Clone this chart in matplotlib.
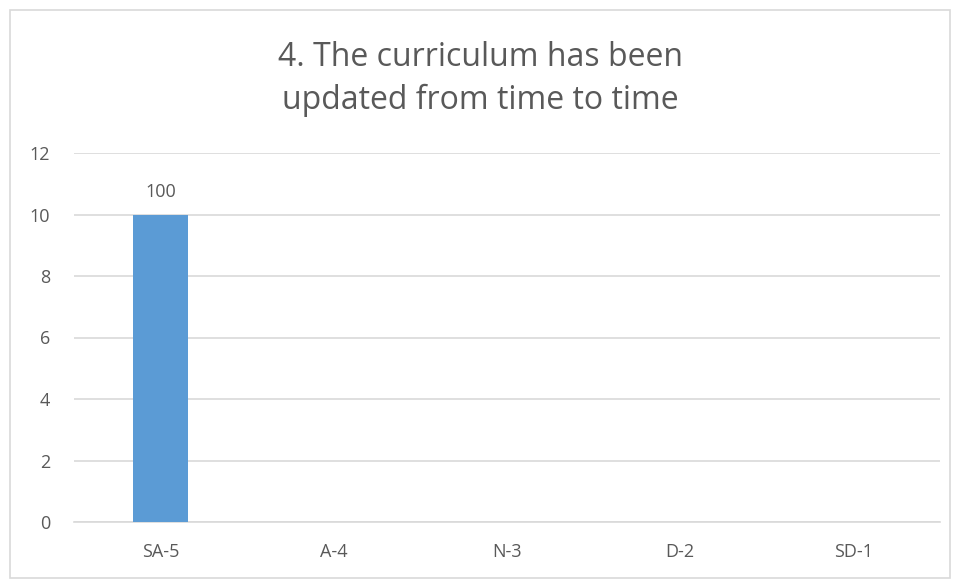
import matplotlib.pyplot as plt
from matplotlib.patches import Rectangle

categories = ['SA-5', 'A-4', 'N-3', 'D-2', 'SD-1']
counts = [10, 0, 0, 0, 0]
percent_labels = ['100', '', '', '', '']
y_ticks = [0, 2, 4, 6, 8, 10, 12]

plt.rcParams['font.family'] = ['Open Sans', 'DejaVu Sans']
text_color = '#595959'

fig = plt.figure(figsize=(9.6, 5.8), dpi=100)
ax = fig.add_axes([74 / 960, 58 / 580, 866 / 960, 369 / 580])

x = range(len(categories))
bars = ax.bar(x, counts, width=0.32, color='#5b9bd5', zorder=3)

for bar, lab in zip(bars, percent_labels):
    if lab:
        ax.text(bar.get_x() + bar.get_width() / 2, bar.get_height() + 0.45, lab,
                ha='center', va='bottom', fontsize=13, color=text_color)

ax.set_xlim(-0.5, len(categories) - 0.5)
ax.set_ylim(0, 12)
ax.set_yticks(y_ticks)
ax.set_xticks(list(x))
ax.set_xticklabels(categories)
ax.tick_params(axis='both', length=0, labelcolor=text_color)
ax.tick_params(axis='x', pad=15, labelsize=13)
ax.tick_params(axis='y', pad=17, labelsize=13)

ax.grid(axis='y', color='#d9d9d9', linewidth=1.2, zorder=0)
for side in ['top', 'right', 'left']:
    ax.spines[side].set_visible(False)
ax.spines['bottom'].set_color('#d9d9d9')
ax.spines['bottom'].set_linewidth(1.2)

fig.text(0.5, 1 - 79 / 580, '4. The curriculum has been\nupdated from time to time',
         ha='center', va='center', fontsize=23, color=text_color, linespacing=1.35)

# chart area frame
fig.patches.append(Rectangle((10 / 960, 2 / 580), 940 / 960, 568 / 580,
                             transform=fig.transFigure, fill=False,
                             edgecolor='#d9d9d9', linewidth=1.2))

fig.savefig('out.png', dpi=100)
